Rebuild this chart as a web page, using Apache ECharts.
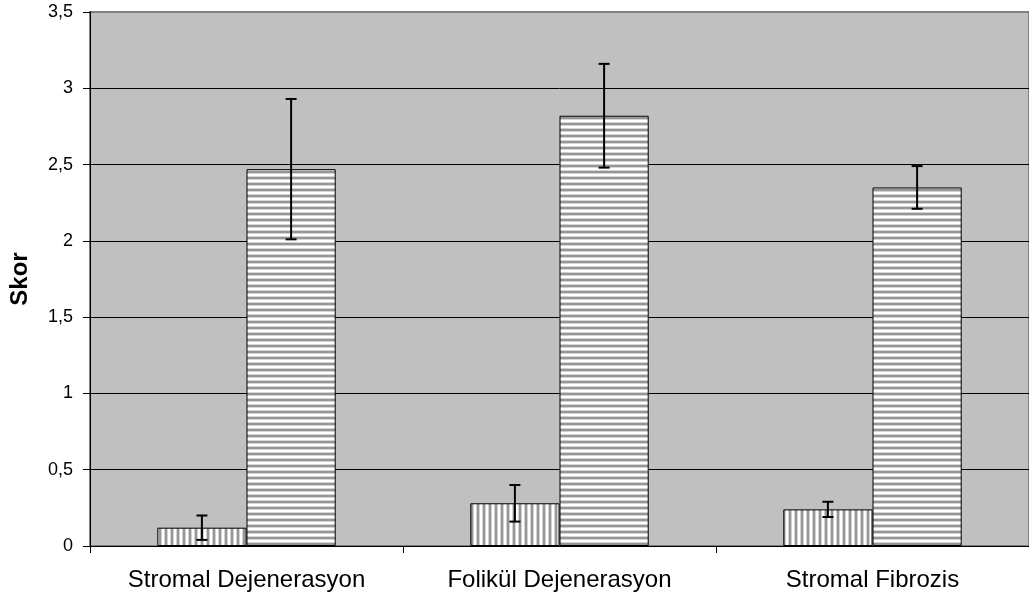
<!DOCTYPE html>
<html>
<head>
<meta charset="utf-8">
<script src="https://cdn.jsdelivr.net/npm/echarts@6/dist/echarts.min.js"></script>
<style>
  html, body { margin: 0; padding: 0; background: #fff; }
  #chart { width: 1029px; height: 597px; }
</style>
</head>
<body>
<div id="chart"></div>
<script>
var categories = ['Stromal Dejenerasyon', 'Folikül Dejenerasyon', 'Stromal Fibrozis'];
var controlValues = [0.12, 0.28, 0.24];
var controlErrors = [0.08, 0.12, 0.05];
var treatedValues = [2.47, 2.82, 2.35];
var treatedErrors = [0.46, 0.34, 0.14];

// stripe fill like the old office hatch patterns
function stripes(vertical) {
  var cols = ['#ffffff', '#ffffff', '#d4d4d4', '#969696', '#969696', '#d4d4d4'];
  var c = document.createElement('canvas');
  c.width = 6; c.height = 6;
  var ctx = c.getContext('2d');
  for (var i = 0; i < cols.length; i++) {
    ctx.fillStyle = cols[i];
    if (vertical) ctx.fillRect(i, 0, 1, 6);
    else ctx.fillRect(0, i, 6, 1);
  }
  return { image: c, repeat: 'repeat' };
}

var catGap = 0.43;

function errorBars(values, errors, side) {
  return {
    type: 'custom',
    z: 10,
    data: values.map(function (v, i) { return [i, v - errors[i], v + errors[i]]; }),
    renderItem: function (params, api) {
      var band = api.size([1, 0])[0];
      var off = side * band * (1 - catGap) / 4;
      var lo = api.coord([api.value(0), api.value(1)]);
      var hi = api.coord([api.value(0), api.value(2)]);
      var x = lo[0] + off;
      var cap = 5.5;
      var st = { stroke: '#000', lineWidth: 2 };
      return {
        type: 'group',
        children: [
          { type: 'line', shape: { x1: x, y1: lo[1], x2: x, y2: hi[1] }, style: st },
          { type: 'line', shape: { x1: x - cap, y1: lo[1], x2: x + cap, y2: lo[1] }, style: st },
          { type: 'line', shape: { x1: x - cap, y1: hi[1], x2: x + cap, y2: hi[1] }, style: st }
        ]
      };
    }
  };
}

var chart = echarts.init(document.getElementById('chart'));

chart.setOption({
  animation: false,
  grid: {
    left: 90, top: 12, width: 948, bottom: 51,
    show: true, backgroundColor: '#c0c0c0', borderColor: '#808080', borderWidth: 2
  },
  xAxis: {
    type: 'category',
    data: categories,
    axisLine: { lineStyle: { color: '#000', width: 1 } },
    axisTick: { show: true, interval: 0, length: 7, lineStyle: { color: '#000' } },
    axisLabel: { interval: 0, margin: 22, color: '#000', fontFamily: 'Liberation Sans, Arial', fontSize: 24 }
  },
  yAxis: {
    type: 'value',
    min: 0, max: 3.5, interval: 0.5,
    name: 'Skor',
    nameLocation: 'middle',
    nameRotate: 90,
    nameGap: 58,
    nameTextStyle: { color: '#000', fontFamily: 'Liberation Sans, Arial', fontSize: 24, fontWeight: 'bold' },
    axisLine: { show: true, lineStyle: { color: '#000', width: 1 } },
    axisTick: { show: true, length: 7, lineStyle: { color: '#000' } },
    axisLabel: {
      margin: 17, color: '#000', fontFamily: 'Liberation Sans, Arial', fontSize: 18,
      formatter: function (v) { return String(v).replace('.', ','); }
    },
    splitLine: {
      show: true,
      lineStyle: { color: ['#000', '#000', '#000', '#000', '#000', '#000', '#000', '#808080'], width: 1 }
    }
  },
  series: [
    {
      type: 'bar',
      data: controlValues,
      barGap: '0%',
      barCategoryGap: (catGap * 100) + '%',
      itemStyle: { color: stripes(true), borderColor: '#000', borderWidth: 1 }
    },
    {
      type: 'bar',
      data: treatedValues,
      itemStyle: { color: stripes(false), borderColor: '#000', borderWidth: 1 }
    },
    errorBars(controlValues, controlErrors, -1),
    errorBars(treatedValues, treatedErrors, 1)
  ]
});
</script>
</body>
</html>
